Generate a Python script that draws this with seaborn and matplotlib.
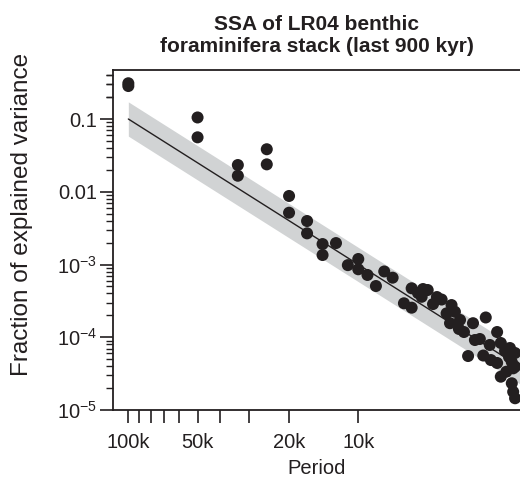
import numpy as np
import pandas as pd
import matplotlib
matplotlib.use("Agg")
import matplotlib.pyplot as plt
import seaborn as sns
from matplotlib.ticker import FixedLocator, NullFormatter

# SSA eigenvalue spectrum: period of each component (kyr) and its share of variance
period_kyr = [100, 100, 50, 50, 33.4, 33.4, 25.0, 25.0, 20.0, 20.0,
              16.7, 16.7, 14.3, 14.3, 12.5, 11.1, 10.0, 10.0, 9.12, 8.38,
              7.71, 7.09, 6.33, 5.86, 5.86, 5.50, 5.30, 5.23, 4.99, 4.73,
              4.55, 4.34, 4.13, 3.99, 3.93, 3.80, 3.65, 3.61, 3.47, 3.33,
              3.17, 3.11, 2.96, 2.86, 2.79, 2.68, 2.65, 2.49, 2.49, 2.40,
              2.40, 2.30, 2.27, 2.21, 2.19, 2.15, 2.15, 2.12, 2.12, 2.08,
              2.08, 2.08]
frac_var = [0.31, 0.284, 0.105, 0.056, 0.0233, 0.0166, 0.0384, 0.0238, 0.00875, 0.00515,
            0.00396, 0.00268, 0.00191, 0.00135, 0.00197, 0.00098, 0.00119, 0.00086, 0.000718, 0.000506,
            0.000802, 0.000659, 0.000293, 0.000255, 0.000471, 0.000406, 0.00036, 0.00046, 0.000446, 0.000286,
            0.000357, 0.00033, 0.000213, 0.000156, 0.000277, 0.000224, 0.00013, 0.000173, 0.000118, 5.52e-5,
            0.000156, 9.16e-5, 9.46e-5, 5.61e-5, 0.000187, 7.83e-5, 4.86e-5, 0.000118, 4.43e-5, 8.34e-5,
            2.87e-5, 6.47e-5, 3.36e-5, 5.35e-5, 7.11e-5, 4.57e-5, 2.33e-5, 3.74e-5, 1.78e-5, 3.94e-5,
            6.07e-5, 1.45e-5]

# power-law fit: value = fit_amp * (period / 100 kyr) ** fit_exponent, with a multiplicative band
fit_period_kyr = [100, 1.98]
fit_amp = 0.1
fit_exponent = 2.0
band_factor = 1.72

xtick_pos = [100, 90, 80, 70, 60, 50, 40, 30, 20, 10]
xtick_lab = ["100k", "", "", "", "", "50k", "", "", "20k", "10k"]
ytick_pos = [1e-5, 1e-4, 1e-3, 1e-2, 1e-1]
ytick_lab = [r"$10^{-5}$", r"$10^{-4}$", r"$10^{-3}$", "0.01", "0.1"]

sns.set_style("ticks")
plt.rcParams["font.family"] = ["Liberation Sans", "DejaVu Sans"]
plt.rcParams["mathtext.fontset"] = "custom"
plt.rcParams["mathtext.rm"] = "Liberation Sans"
plt.rcParams["mathtext.it"] = "Liberation Sans:italic"
plt.rcParams["mathtext.bf"] = "Liberation Sans:bold"

ink = "#231f20"
band_col = "#d1d3d4"

df = pd.DataFrame({"period": period_kyr, "frac": frac_var})

fig = plt.figure(figsize=(5.2, 4.83), dpi=100)
ax = fig.add_axes([113 / 520, 73 / 483, 407 / 520, 340 / 483])

# fitted line and its band
fp = np.geomspace(fit_period_kyr[0], fit_period_kyr[1], 200)
fv = fit_amp * (fp / fit_period_kyr[0]) ** fit_exponent
ax.fill_between(fp, fv / band_factor, fv * band_factor, color=band_col, lw=0, zorder=1)
sns.lineplot(x=fp, y=fv, color=ink, lw=1.0, ax=ax, zorder=2)

sns.scatterplot(data=df, x="period", y="frac", color=ink, s=75, edgecolor="none",
                ax=ax, zorder=3, clip_on=True)

ax.set_xscale("log")
ax.set_yscale("log")
ax.set_xlim(116.6, 1.98)
ax.set_ylim(1e-5, 0.4716)

ax.xaxis.set_major_locator(FixedLocator(xtick_pos))
ax.set_xticklabels(xtick_lab)
ax.xaxis.set_minor_locator(FixedLocator([]))
ax.yaxis.set_major_locator(FixedLocator(ytick_pos))
ax.set_yticklabels(ytick_lab)
minors = [m * 10.0 ** e for e in range(-5, 0) for m in range(2, 10)] + [0.2, 0.3, 0.4]
ax.yaxis.set_minor_locator(FixedLocator(minors))
ax.yaxis.set_minor_formatter(NullFormatter())

ax.tick_params(axis="both", which="major", direction="out", length=9.5, width=1.2,
               color=ink, labelsize=14.5, labelcolor=ink)
ax.tick_params(axis="x", which="major", pad=7)
ax.tick_params(axis="y", which="major", pad=2)
ax.tick_params(axis="y", which="minor", direction="out", length=5, width=1.0, color=ink)

for side in ["left", "bottom", "top"]:
    ax.spines[side].set_linewidth(1.3)
    ax.spines[side].set_color(ink)
ax.spines["right"].set_visible(False)

ax.set_xlabel("Period", fontsize=14.5, color=ink, labelpad=5)
ax.set_ylabel("Fraction of explained variance", fontsize=17.5, color=ink)
ax.yaxis.set_label_coords(-0.197, 0.574)
ax.set_title("SSA of LR04 benthic\nforaminifera stack (last 900 kyr)",
             fontsize=15, fontweight="bold", color=ink, pad=13)

fig.savefig("out.png", dpi=100)
